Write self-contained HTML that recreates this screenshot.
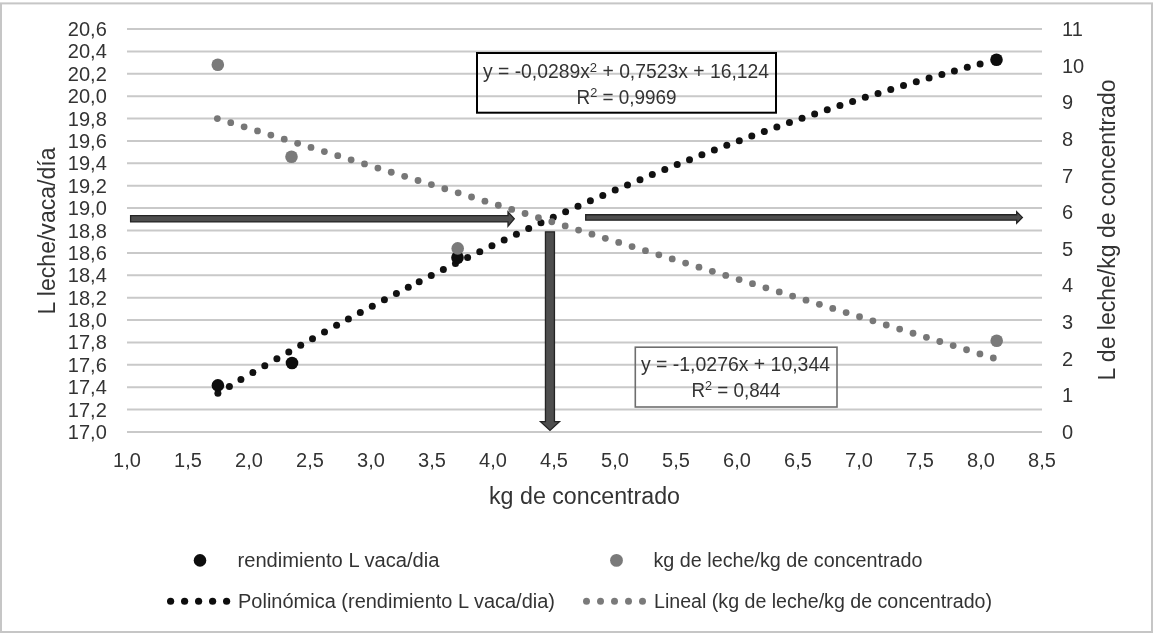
<!DOCTYPE html><html><head><meta charset="utf-8"><style>html,body{margin:0;padding:0;background:#fff;overflow:hidden}svg{display:block;will-change:transform}text{font-family:"Liberation Sans",sans-serif}</style></head><body>
<svg width="1155" height="640" viewBox="0 0 1155 640">
<rect x="0" y="0" width="1155" height="640" fill="#fff"/>
<rect x="1" y="3.4" width="1151" height="628.6" fill="none" stroke="#c6c6c6" stroke-width="2"/>
<line x1="127" y1="29.00" x2="1042" y2="29.00" stroke="#c9c9c9" stroke-width="2"/>
<line x1="127" y1="51.39" x2="1042" y2="51.39" stroke="#c9c9c9" stroke-width="2"/>
<line x1="127" y1="73.78" x2="1042" y2="73.78" stroke="#c9c9c9" stroke-width="2"/>
<line x1="127" y1="96.17" x2="1042" y2="96.17" stroke="#c9c9c9" stroke-width="2"/>
<line x1="127" y1="118.56" x2="1042" y2="118.56" stroke="#c9c9c9" stroke-width="2"/>
<line x1="127" y1="140.94" x2="1042" y2="140.94" stroke="#c9c9c9" stroke-width="2"/>
<line x1="127" y1="163.33" x2="1042" y2="163.33" stroke="#c9c9c9" stroke-width="2"/>
<line x1="127" y1="185.72" x2="1042" y2="185.72" stroke="#c9c9c9" stroke-width="2"/>
<line x1="127" y1="208.11" x2="1042" y2="208.11" stroke="#c9c9c9" stroke-width="2"/>
<line x1="127" y1="230.50" x2="1042" y2="230.50" stroke="#c9c9c9" stroke-width="2"/>
<line x1="127" y1="252.89" x2="1042" y2="252.89" stroke="#c9c9c9" stroke-width="2"/>
<line x1="127" y1="275.28" x2="1042" y2="275.28" stroke="#c9c9c9" stroke-width="2"/>
<line x1="127" y1="297.67" x2="1042" y2="297.67" stroke="#c9c9c9" stroke-width="2"/>
<line x1="127" y1="320.06" x2="1042" y2="320.06" stroke="#c9c9c9" stroke-width="2"/>
<line x1="127" y1="342.44" x2="1042" y2="342.44" stroke="#c9c9c9" stroke-width="2"/>
<line x1="127" y1="364.83" x2="1042" y2="364.83" stroke="#c9c9c9" stroke-width="2"/>
<line x1="127" y1="387.22" x2="1042" y2="387.22" stroke="#c9c9c9" stroke-width="2"/>
<line x1="127" y1="409.61" x2="1042" y2="409.61" stroke="#c9c9c9" stroke-width="2"/>
<line x1="127" y1="432.00" x2="1042" y2="432.00" stroke="#c9c9c9" stroke-width="2"/>
<text x="106.8" y="36.00" font-size="20" fill="#333333" text-anchor="end">20,6</text>
<text x="106.8" y="58.39" font-size="20" fill="#333333" text-anchor="end">20,4</text>
<text x="106.8" y="80.78" font-size="20" fill="#333333" text-anchor="end">20,2</text>
<text x="106.8" y="103.17" font-size="20" fill="#333333" text-anchor="end">20,0</text>
<text x="106.8" y="125.56" font-size="20" fill="#333333" text-anchor="end">19,8</text>
<text x="106.8" y="147.94" font-size="20" fill="#333333" text-anchor="end">19,6</text>
<text x="106.8" y="170.33" font-size="20" fill="#333333" text-anchor="end">19,4</text>
<text x="106.8" y="192.72" font-size="20" fill="#333333" text-anchor="end">19,2</text>
<text x="106.8" y="215.11" font-size="20" fill="#333333" text-anchor="end">19,0</text>
<text x="106.8" y="237.50" font-size="20" fill="#333333" text-anchor="end">18,8</text>
<text x="106.8" y="259.89" font-size="20" fill="#333333" text-anchor="end">18,6</text>
<text x="106.8" y="282.28" font-size="20" fill="#333333" text-anchor="end">18,4</text>
<text x="106.8" y="304.67" font-size="20" fill="#333333" text-anchor="end">18,2</text>
<text x="106.8" y="327.06" font-size="20" fill="#333333" text-anchor="end">18,0</text>
<text x="106.8" y="349.44" font-size="20" fill="#333333" text-anchor="end">17,8</text>
<text x="106.8" y="371.83" font-size="20" fill="#333333" text-anchor="end">17,6</text>
<text x="106.8" y="394.22" font-size="20" fill="#333333" text-anchor="end">17,4</text>
<text x="106.8" y="416.61" font-size="20" fill="#333333" text-anchor="end">17,2</text>
<text x="106.8" y="439.00" font-size="20" fill="#333333" text-anchor="end">17,0</text>
<text x="1062" y="439.00" font-size="20" fill="#333333">0</text>
<text x="1062" y="402.36" font-size="20" fill="#333333">1</text>
<text x="1062" y="365.73" font-size="20" fill="#333333">2</text>
<text x="1062" y="329.09" font-size="20" fill="#333333">3</text>
<text x="1062" y="292.45" font-size="20" fill="#333333">4</text>
<text x="1062" y="255.82" font-size="20" fill="#333333">5</text>
<text x="1062" y="219.18" font-size="20" fill="#333333">6</text>
<text x="1062" y="182.55" font-size="20" fill="#333333">7</text>
<text x="1062" y="145.91" font-size="20" fill="#333333">8</text>
<text x="1062" y="109.27" font-size="20" fill="#333333">9</text>
<text x="1062" y="72.64" font-size="20" fill="#333333">10</text>
<text x="1062" y="36.00" font-size="20" fill="#333333">11</text>
<text x="127" y="467" font-size="20" fill="#333333" text-anchor="middle">1,0</text>
<text x="188" y="467" font-size="20" fill="#333333" text-anchor="middle">1,5</text>
<text x="249" y="467" font-size="20" fill="#333333" text-anchor="middle">2,0</text>
<text x="310" y="467" font-size="20" fill="#333333" text-anchor="middle">2,5</text>
<text x="371" y="467" font-size="20" fill="#333333" text-anchor="middle">3,0</text>
<text x="432" y="467" font-size="20" fill="#333333" text-anchor="middle">3,5</text>
<text x="493" y="467" font-size="20" fill="#333333" text-anchor="middle">4,0</text>
<text x="554" y="467" font-size="20" fill="#333333" text-anchor="middle">4,5</text>
<text x="615" y="467" font-size="20" fill="#333333" text-anchor="middle">5,0</text>
<text x="676" y="467" font-size="20" fill="#333333" text-anchor="middle">5,5</text>
<text x="737" y="467" font-size="20" fill="#333333" text-anchor="middle">6,0</text>
<text x="798" y="467" font-size="20" fill="#333333" text-anchor="middle">6,5</text>
<text x="859" y="467" font-size="20" fill="#333333" text-anchor="middle">7,0</text>
<text x="920" y="467" font-size="20" fill="#333333" text-anchor="middle">7,5</text>
<text x="981" y="467" font-size="20" fill="#333333" text-anchor="middle">8,0</text>
<text x="1042" y="467" font-size="20" fill="#333333" text-anchor="middle">8,5</text>
<text x="489" y="504" font-size="23.5" fill="#333333" textLength="191" lengthAdjust="spacingAndGlyphs">kg de concentrado</text>
<text transform="translate(54.8,314.5) rotate(-90)" x="0" y="0" font-size="23.5" fill="#333333" textLength="167" lengthAdjust="spacingAndGlyphs">L leche/vaca/día</text>
<text transform="translate(1115.4,380.5) rotate(-90)" x="0" y="0" font-size="23.5" fill="#333333" textLength="301" lengthAdjust="spacingAndGlyphs">L de leche/kg de concentrado</text>
<circle cx="217.89" cy="393.26" r="3.5" fill="#111"/>
<circle cx="229.40" cy="386.41" r="3.5" fill="#111"/>
<circle cx="240.90" cy="379.62" r="3.5" fill="#111"/>
<circle cx="252.90" cy="372.60" r="3.5" fill="#111"/>
<circle cx="264.80" cy="365.70" r="3.5" fill="#111"/>
<circle cx="276.90" cy="358.74" r="3.5" fill="#111"/>
<circle cx="288.80" cy="351.96" r="3.5" fill="#111"/>
<circle cx="300.70" cy="345.25" r="3.5" fill="#111"/>
<circle cx="312.50" cy="338.65" r="3.5" fill="#111"/>
<circle cx="324.50" cy="332.00" r="3.5" fill="#111"/>
<circle cx="336.60" cy="325.36" r="3.5" fill="#111"/>
<circle cx="348.40" cy="318.95" r="3.5" fill="#111"/>
<circle cx="360.30" cy="312.54" r="3.5" fill="#111"/>
<circle cx="372.30" cy="306.14" r="3.5" fill="#111"/>
<circle cx="384.40" cy="299.75" r="3.5" fill="#111"/>
<circle cx="396.40" cy="293.48" r="3.5" fill="#111"/>
<circle cx="408.30" cy="287.32" r="3.5" fill="#111"/>
<circle cx="419.20" cy="281.74" r="3.5" fill="#111"/>
<circle cx="431.26" cy="275.61" r="3.5" fill="#111"/>
<circle cx="443.35" cy="269.54" r="3.5" fill="#111"/>
<circle cx="455.47" cy="263.52" r="3.5" fill="#111"/>
<circle cx="467.60" cy="257.55" r="3.5" fill="#111"/>
<circle cx="479.77" cy="251.63" r="3.5" fill="#111"/>
<circle cx="491.96" cy="245.76" r="3.5" fill="#111"/>
<circle cx="504.17" cy="239.95" r="3.5" fill="#111"/>
<circle cx="516.42" cy="234.18" r="3.5" fill="#111"/>
<circle cx="528.69" cy="228.48" r="3.5" fill="#111"/>
<circle cx="540.98" cy="222.82" r="3.5" fill="#111"/>
<circle cx="553.29" cy="217.23" r="3.5" fill="#111"/>
<circle cx="565.63" cy="211.68" r="3.5" fill="#111"/>
<circle cx="578.00" cy="206.19" r="3.5" fill="#111"/>
<circle cx="590.39" cy="200.76" r="3.5" fill="#111"/>
<circle cx="602.80" cy="195.38" r="3.5" fill="#111"/>
<circle cx="615.20" cy="190.08" r="3.5" fill="#111"/>
<circle cx="627.50" cy="184.88" r="3.5" fill="#111"/>
<circle cx="640.00" cy="179.67" r="3.5" fill="#111"/>
<circle cx="652.30" cy="174.61" r="3.5" fill="#111"/>
<circle cx="664.80" cy="169.53" r="3.5" fill="#111"/>
<circle cx="677.20" cy="164.56" r="3.5" fill="#111"/>
<circle cx="689.50" cy="159.70" r="3.5" fill="#111"/>
<circle cx="701.91" cy="154.86" r="3.5" fill="#111"/>
<circle cx="714.35" cy="150.07" r="3.5" fill="#111"/>
<circle cx="726.81" cy="145.35" r="3.5" fill="#111"/>
<circle cx="739.29" cy="140.68" r="3.5" fill="#111"/>
<circle cx="751.80" cy="136.08" r="3.5" fill="#111"/>
<circle cx="764.33" cy="131.53" r="3.5" fill="#111"/>
<circle cx="776.87" cy="127.05" r="3.5" fill="#111"/>
<circle cx="789.44" cy="122.62" r="3.5" fill="#111"/>
<circle cx="802.04" cy="118.26" r="3.5" fill="#111"/>
<circle cx="814.65" cy="113.95" r="3.5" fill="#111"/>
<circle cx="827.28" cy="109.71" r="3.5" fill="#111"/>
<circle cx="839.94" cy="105.54" r="3.5" fill="#111"/>
<circle cx="852.61" cy="101.42" r="3.5" fill="#111"/>
<circle cx="865.31" cy="97.37" r="3.5" fill="#111"/>
<circle cx="878.03" cy="93.39" r="3.5" fill="#111"/>
<circle cx="890.76" cy="89.46" r="3.5" fill="#111"/>
<circle cx="903.52" cy="85.61" r="3.5" fill="#111"/>
<circle cx="916.29" cy="81.81" r="3.5" fill="#111"/>
<circle cx="929.09" cy="78.08" r="3.5" fill="#111"/>
<circle cx="941.90" cy="74.42" r="3.5" fill="#111"/>
<circle cx="954.40" cy="70.92" r="3.5" fill="#111"/>
<circle cx="967.30" cy="67.37" r="3.5" fill="#111"/>
<circle cx="980.10" cy="63.93" r="3.5" fill="#111"/>
<circle cx="217.35" cy="118.56" r="3.4" fill="#777"/>
<circle cx="230.73" cy="122.69" r="3.4" fill="#777"/>
<circle cx="244.11" cy="126.82" r="3.4" fill="#777"/>
<circle cx="257.48" cy="130.95" r="3.4" fill="#777"/>
<circle cx="270.86" cy="135.07" r="3.4" fill="#777"/>
<circle cx="284.24" cy="139.20" r="3.4" fill="#777"/>
<circle cx="297.62" cy="143.33" r="3.4" fill="#777"/>
<circle cx="311.00" cy="147.46" r="3.4" fill="#777"/>
<circle cx="324.38" cy="151.59" r="3.4" fill="#777"/>
<circle cx="337.75" cy="155.72" r="3.4" fill="#777"/>
<circle cx="351.13" cy="159.85" r="3.4" fill="#777"/>
<circle cx="364.51" cy="163.97" r="3.4" fill="#777"/>
<circle cx="377.89" cy="168.10" r="3.4" fill="#777"/>
<circle cx="391.27" cy="172.23" r="3.4" fill="#777"/>
<circle cx="404.65" cy="176.36" r="3.4" fill="#777"/>
<circle cx="418.03" cy="180.49" r="3.4" fill="#777"/>
<circle cx="431.40" cy="184.62" r="3.4" fill="#777"/>
<circle cx="444.78" cy="188.74" r="3.4" fill="#777"/>
<circle cx="458.16" cy="192.87" r="3.4" fill="#777"/>
<circle cx="471.54" cy="197.00" r="3.4" fill="#777"/>
<circle cx="484.92" cy="201.13" r="3.4" fill="#777"/>
<circle cx="498.30" cy="205.26" r="3.4" fill="#777"/>
<circle cx="511.68" cy="209.39" r="3.4" fill="#777"/>
<circle cx="525.05" cy="213.51" r="3.4" fill="#777"/>
<circle cx="538.43" cy="217.64" r="3.4" fill="#777"/>
<circle cx="551.81" cy="221.77" r="3.4" fill="#777"/>
<circle cx="565.19" cy="225.90" r="3.4" fill="#777"/>
<circle cx="578.57" cy="230.03" r="3.4" fill="#777"/>
<circle cx="591.95" cy="234.16" r="3.4" fill="#777"/>
<circle cx="605.32" cy="238.29" r="3.4" fill="#777"/>
<circle cx="618.70" cy="242.41" r="3.4" fill="#777"/>
<circle cx="632.08" cy="246.54" r="3.4" fill="#777"/>
<circle cx="645.46" cy="250.67" r="3.4" fill="#777"/>
<circle cx="658.84" cy="254.80" r="3.4" fill="#777"/>
<circle cx="672.22" cy="258.93" r="3.4" fill="#777"/>
<circle cx="685.60" cy="263.06" r="3.4" fill="#777"/>
<circle cx="698.97" cy="267.18" r="3.4" fill="#777"/>
<circle cx="712.35" cy="271.31" r="3.4" fill="#777"/>
<circle cx="725.73" cy="275.44" r="3.4" fill="#777"/>
<circle cx="739.11" cy="279.57" r="3.4" fill="#777"/>
<circle cx="752.49" cy="283.70" r="3.4" fill="#777"/>
<circle cx="765.87" cy="287.83" r="3.4" fill="#777"/>
<circle cx="779.25" cy="291.95" r="3.4" fill="#777"/>
<circle cx="792.62" cy="296.08" r="3.4" fill="#777"/>
<circle cx="806.00" cy="300.21" r="3.4" fill="#777"/>
<circle cx="819.38" cy="304.34" r="3.4" fill="#777"/>
<circle cx="832.76" cy="308.47" r="3.4" fill="#777"/>
<circle cx="846.14" cy="312.60" r="3.4" fill="#777"/>
<circle cx="859.52" cy="316.73" r="3.4" fill="#777"/>
<circle cx="872.89" cy="320.85" r="3.4" fill="#777"/>
<circle cx="886.27" cy="324.98" r="3.4" fill="#777"/>
<circle cx="899.65" cy="329.11" r="3.4" fill="#777"/>
<circle cx="913.03" cy="333.24" r="3.4" fill="#777"/>
<circle cx="926.41" cy="337.37" r="3.4" fill="#777"/>
<circle cx="939.79" cy="341.50" r="3.4" fill="#777"/>
<circle cx="953.17" cy="345.62" r="3.4" fill="#777"/>
<circle cx="966.54" cy="349.75" r="3.4" fill="#777"/>
<circle cx="979.92" cy="353.88" r="3.4" fill="#777"/>
<circle cx="993.30" cy="358.01" r="3.4" fill="#777"/>
<circle cx="217.9" cy="385.4" r="6.3" fill="#0d0d0d"/>
<circle cx="292" cy="363" r="6.3" fill="#0d0d0d"/>
<circle cx="457.5" cy="257.7" r="6.3" fill="#0d0d0d"/>
<circle cx="996.5" cy="59.8" r="6.3" fill="#0d0d0d"/>
<circle cx="217.8" cy="64.8" r="6.3" fill="#7a7a7a"/>
<circle cx="291.5" cy="156.8" r="6.3" fill="#7a7a7a"/>
<circle cx="457.7" cy="248.4" r="6.3" fill="#7a7a7a"/>
<circle cx="996.7" cy="340.7" r="6.3" fill="#7a7a7a"/>
<rect x="477" y="53" width="299" height="59.7" fill="none" stroke="#000" stroke-width="2"/>
<text x="483" y="78" font-size="20" fill="#333333" textLength="286" lengthAdjust="spacingAndGlyphs">y = -0,0289x<tspan font-size="13.5" dy="-6.5">2</tspan><tspan dy="6.5"> + 0,7523x + 16,124</tspan></text>
<text x="576.5" y="103.6" font-size="20" fill="#333333" textLength="100" lengthAdjust="spacingAndGlyphs">R<tspan font-size="13.5" dy="-6.5">2</tspan><tspan dy="6.5"> = 0,9969</tspan></text>
<rect x="635.3" y="347.2" width="201.7" height="59.8" fill="none" stroke="#6e6e6e" stroke-width="1.6"/>
<text x="641" y="371" font-size="20" fill="#333333" textLength="189" lengthAdjust="spacingAndGlyphs">y = -1,0276x + 10,344</text>
<text x="691.5" y="396.6" font-size="20" fill="#333333" textLength="89" lengthAdjust="spacingAndGlyphs">R<tspan font-size="13.5" dy="-6.5">2</tspan><tspan dy="6.5"> = 0,844</tspan></text>
<path d="M130.6,215.6 L508,215.6 L508,211.9 L514.3,218.7 L508,226.2 L508,221.9 L130.6,221.9 Z" fill="#4e4e4e" stroke="#242424" stroke-width="1.3"/>
<path d="M585.7,214.75 L1016.7,214.75 L1016.7,211.7 L1022.4,217.4 L1016.7,223.2 L1016.7,220.15 L585.7,220.15 Z" fill="#4e4e4e" stroke="#242424" stroke-width="1.3"/>
<path d="M545.45,231.85 L554.45,231.85 L554.45,421.65 L559.5,421.65 L550,430.4 L540.5,421.65 L545.45,421.65 Z" fill="#4e4e4e" stroke="#242424" stroke-width="1.3"/>
<circle cx="200" cy="560.4" r="6.3" fill="#0d0d0d"/>
<text x="237.5" y="567" font-size="20" fill="#333333" textLength="202" lengthAdjust="spacingAndGlyphs">rendimiento L vaca/dia</text>
<circle cx="616.5" cy="560.4" r="6.4" fill="#7a7a7a"/>
<text x="653.5" y="567" font-size="20" fill="#333333" textLength="269" lengthAdjust="spacingAndGlyphs">kg de leche/kg de concentrado</text>
<circle cx="170.6" cy="601.25" r="3.6" fill="#0d0d0d"/>
<circle cx="184.6" cy="601.25" r="3.6" fill="#0d0d0d"/>
<circle cx="198.6" cy="601.25" r="3.6" fill="#0d0d0d"/>
<circle cx="212.6" cy="601.25" r="3.6" fill="#0d0d0d"/>
<circle cx="226.6" cy="601.25" r="3.6" fill="#0d0d0d"/>
<text x="238" y="608" font-size="20" fill="#333333" textLength="317" lengthAdjust="spacingAndGlyphs">Polinómica (rendimiento L vaca/dia)</text>
<circle cx="586.5" cy="601.25" r="3.5" fill="#7a7a7a"/>
<circle cx="600.5" cy="601.25" r="3.5" fill="#7a7a7a"/>
<circle cx="614.5" cy="601.25" r="3.5" fill="#7a7a7a"/>
<circle cx="628.5" cy="601.25" r="3.5" fill="#7a7a7a"/>
<circle cx="642.5" cy="601.25" r="3.5" fill="#7a7a7a"/>
<text x="654" y="608" font-size="20" fill="#333333" textLength="338" lengthAdjust="spacingAndGlyphs">Lineal (kg de leche/kg de concentrado)</text>
</svg></body></html>
